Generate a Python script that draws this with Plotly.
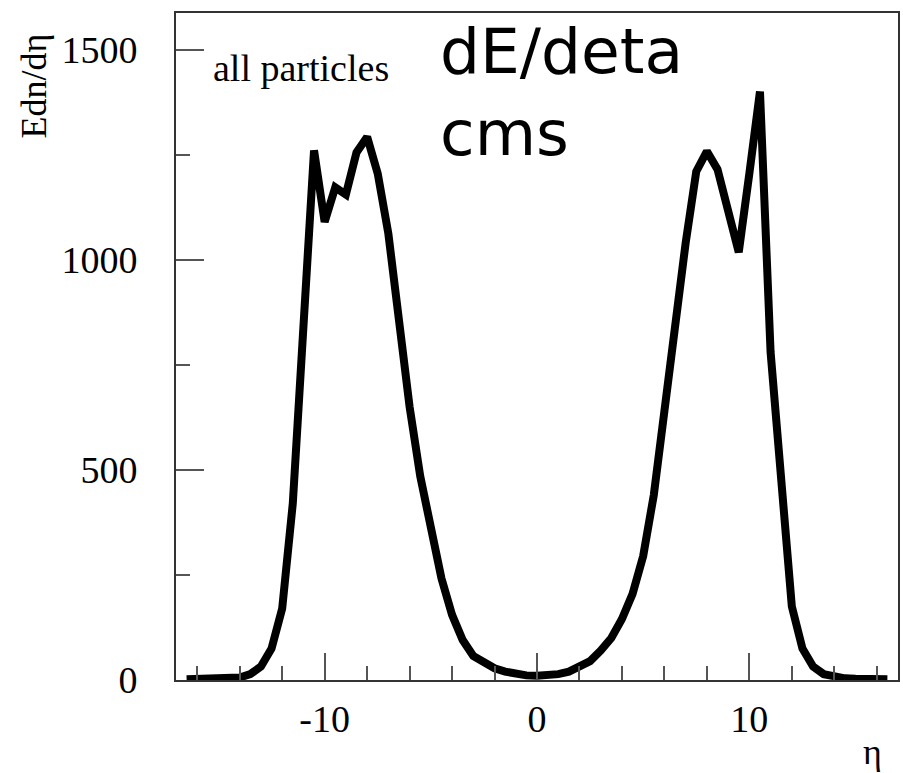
import plotly.graph_objects as go

# pseudorapidity bin centres and energy-weighted multiplicity
eta = [-16.5, -16.0, -15.5, -15.0, -14.5, -14.0, -13.5, -13.0, -12.5, -12.0,
       -11.5, -11.0, -10.5, -10.0, -9.5, -9.0, -8.5, -8.0, -7.5, -7.0,
       -6.5, -6.0, -5.5, -5.0, -4.5, -4.0, -3.5, -3.0, -2.5, -2.0,
       -1.5, -1.0, -0.5, 0.0, 0.5, 1.0, 1.5, 2.0, 2.5, 3.0,
       3.5, 4.0, 4.5, 5.0, 5.5, 6.0, 6.5, 7.0, 7.5, 8.0,
       8.5, 9.0, 9.5, 10.0, 10.5, 11.0, 11.5, 12.0, 12.5, 13.0,
       13.5, 14.0, 14.5, 15.0, 15.5, 16.0, 16.5]
edn_deta = [2, 2, 2, 3, 4, 6, 14, 32, 75, 170,
            420, 860, 1260, 1090, 1172, 1155, 1255, 1292, 1205, 1062,
            858, 650, 485, 352, 242, 155, 95, 57, 40, 28,
            20, 14, 11, 10, 11, 14, 20, 30, 45, 70,
            100, 145, 205, 295, 440, 640, 860, 1040, 1210, 1258,
            1215, 1110, 1018, 1205, 1400, 780, 470, 175, 75, 32,
            14, 7, 4, 3, 2, 2, 2]

x_tickvals = [-10, 0, 10]
y_tickvals = [0, 500, 1000, 1500]

SERIF = "Liberation Serif"

fig = go.Figure()
fig.add_trace(go.Scatter(
    x=eta, y=edn_deta, mode="lines",
    line=dict(color="black", width=8),
    showlegend=False, hoverinfo="skip",
))

W, H = 903, 773
L, R, T, B = 176, 3, 13, 93
PW, PH = W - L - R, H - T - B


def px(xp):
    return (xp - L) / PW


def py(yp):
    return 1 - (yp - T) / PH


axis_common = dict(
    showgrid=False, zeroline=False,
    showline=True, linecolor="#333333", linewidth=2, mirror=True,
    ticks="inside", tickcolor="#555555", tickwidth=1.5,
    tickfont=dict(family=SERIF, size=38, color="black"),
)

fig.update_xaxes(
    **axis_common,
    range=[-17, 17],
    tickmode="array", tickvals=x_tickvals,
    ticktext=[str(v) for v in x_tickvals],
    ticklen=27,
    minor=dict(ticks="inside", dtick=2, tick0=0, ticklen=14,
               tickcolor="#555555", tickwidth=1.5),
    ticklabelstandoff=4,
)
fig.update_yaxes(
    **axis_common,
    range=[0, 1587],
    tickmode="array", tickvals=y_tickvals,
    ticktext=[str(v) for v in y_tickvals],
    ticklen=28,
    minor=dict(ticks="inside", dtick=250, tick0=0, ticklen=14,
               tickcolor="#555555", tickwidth=1.5),
    ticklabelstandoff=29,
)

annotations = [
    dict(text="all particles", x=px(211), y=py(68), xanchor="left", yanchor="middle",
         font=dict(family=SERIF, size=38, color="black")),
    dict(text="dE/deta<br>cms", x=px(439), y=py(13), xanchor="left", yanchor="top",
         align="left", font=dict(family="DejaVu Sans", size=63, color="black")),
    dict(text="Edn/dη", x=px(34), y=py(86), xanchor="center", yanchor="middle",
         textangle=-90, font=dict(family=SERIF, size=36, color="black")),
    dict(text="η", x=px(874), y=py(752), xanchor="center", yanchor="middle",
         font=dict(family=SERIF, size=36, color="black")),
]
for a in annotations:
    a.update(xref="paper", yref="paper", showarrow=False)

fig.update_layout(
    width=W, height=H,
    margin=dict(l=L, r=R, t=T, b=B),
    paper_bgcolor="white", plot_bgcolor="white",
    annotations=annotations,
)

fig.write_html("out.html")
